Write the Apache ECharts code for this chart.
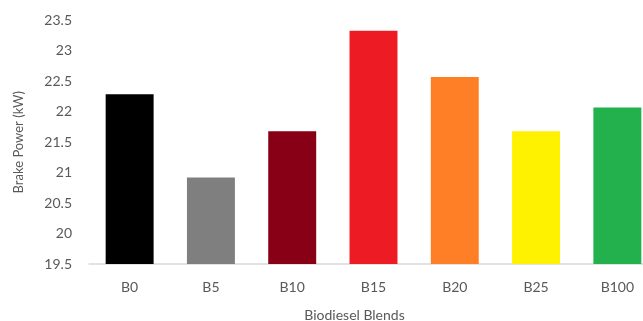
<!DOCTYPE html>
<html>
<head>
<meta charset="utf-8">
<script src="https://cdn.jsdelivr.net/npm/echarts@6/dist/echarts.min.js"></script>
<style>
  html, body { margin: 0; padding: 0; background: #fff; }
  #chart { width: 643px; height: 321px; }
</style>
</head>
<body>
<div id="chart"></div>
<script>
// Brake power for each biodiesel blend
const blends = ['B0', 'B5', 'B10', 'B15', 'B20', 'B25', 'B100'];
const brakePower = [22.29, 20.92, 21.68, 23.33, 22.57, 21.68, 22.07];
const barColors = ['#000000', '#7f7f7f', '#880015', '#ed1c24', '#ff7f27', '#fff200', '#22b14c'];

const textColor = '#595959';
const fontFamily = 'Lato, "Open Sans", sans-serif';

const chart = echarts.init(document.getElementById('chart'));
chart.setOption({
  animation: false,
  grid: { left: 89, width: 569, top: 20.5, bottom: 57, outerBoundsMode: 'none' },
  xAxis: {
    type: 'category',
    data: blends,
    name: 'Biodiesel Blends',
    nameLocation: 'middle',
    nameGap: 44,
    nameTextStyle: { color: textColor, fontSize: 14, fontFamily: fontFamily, padding: [0, 38, 0, 0] },
    axisLine: { lineStyle: { color: '#d9d9d9', width: 1.5 } },
    axisTick: { show: false },
    axisLabel: { color: textColor, fontSize: 14, fontFamily: fontFamily, margin: 16 }
  },
  yAxis: {
    type: 'value',
    min: 19.5,
    max: 23.5,
    interval: 0.5,
    name: 'Brake Power (kW)',
    nameLocation: 'middle',
    nameGap: 64,
    nameTextStyle: { color: textColor, fontSize: 13, fontFamily: fontFamily },
    axisLine: { show: false },
    axisTick: { show: false },
    splitLine: { show: false },
    axisLabel: { color: textColor, fontSize: 14, fontFamily: fontFamily, margin: 17 }
  },
  series: [{
    type: 'bar',
    barWidth: '59%',
    data: brakePower.map((v, i) => ({ value: v, itemStyle: { color: barColors[i] } }))
  }]
});
</script>
</body>
</html>
